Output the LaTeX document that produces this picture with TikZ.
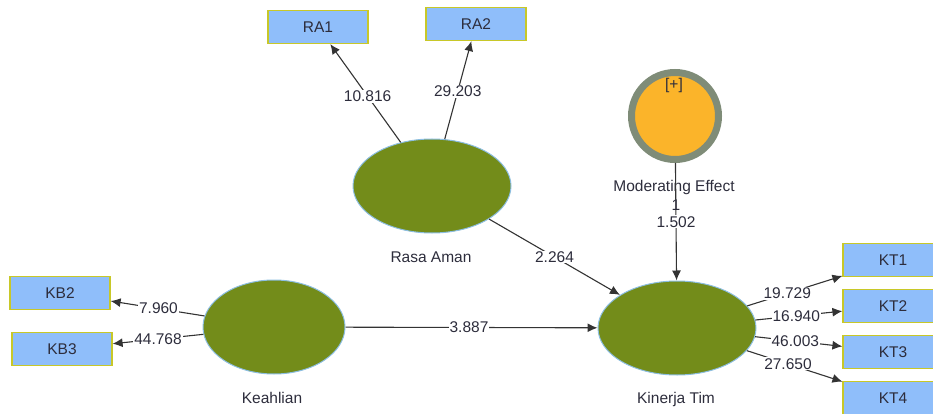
\documentclass[tikz,border=0pt]{standalone}
\usepackage{fontspec}
\setmainfont{Liberation Sans}
\usetikzlibrary{math, shapes.geometric, arrows.meta}
\definecolor{lvgreen}{RGB}{115,140,26}
\definecolor{lvedge}{RGB}{140,190,225}
\definecolor{indfill}{RGB}{143,190,250}
\definecolor{indedge}{RGB}{200,200,40}
\definecolor{modring}{RGB}{127,140,120}
\definecolor{modfill}{RGB}{251,180,42}
\definecolor{txtgray}{RGB}{45,45,60}

\begin{document}
\begin{tikzpicture}[x=1pt, y=-1pt, font=\fontsize{15.5}{18}\selectfont, text=txtgray,
  latent/.style={ellipse, draw=lvedge, line width=1pt, fill=lvgreen, minimum width=158pt, minimum height=94pt, inner sep=0pt},
  indicator/.style={rectangle, draw=indedge, line width=1.2pt, fill=indfill, minimum width=\w pt, minimum height=\h pt, inner sep=0pt},
  link/.style={draw=black!80, line width=1.1pt, -{Latex[length=10pt, width=9pt]}},
  coef/.style={fill=white, inner sep=1pt}]
  \tikzmath{\w = 100; \h = 33;}
  \useasboundingbox (0,0) rectangle (933,414);

  \node[latent] (ra) at (432,186) {};
  \node[latent, minimum width=142pt] (kh) at (274,327) {};
  \node[latent] (kt) at (677,328) {};
  \node[circle, draw=modring, line width=7pt, fill=modfill, minimum size=87pt, inner sep=0pt] (me) at (675,116) {};

  \node (ralbl) at (431,257) {Rasa Aman};
  \node (khlbl) at (272,398) {Keahlian};
  \node (ktlbl) at (676,399) {Kinerja Tim};
  \node (melbl) at (674,187) {Moderating Effect};
  \node (meplus) at (674,85) {[+]};

  \node[indicator] (ra1) at (318,27) {RA1};
  \node[indicator] (ra2) at (476,24) {RA2};
  \node[indicator] (kb2) at (60,293) {KB2};
  \node[indicator] (kb3) at (62,349) {KB3};
  \node[indicator] (kt1) at (893,260) {KT1};
  \node[indicator] (kt2) at (893,306) {KT2};
  \node[indicator] (kt3) at (893,352) {KT3};
  \node[indicator] (kt4) at (893,398) {KT4};

  \draw[link] (ra) -- node[coef, pos=.47] {10.816} (ra1);
  \draw[link] (ra) -- node[coef, pos=.49] {29.203} (ra2);
  \draw[link] (kh) -- node[coef, pos=.49] {7.960} (kb2);
  \draw[link] (kh) -- node[coef, pos=.5] {44.768} (kb3);
  \draw[link] (kt) -- node[coef, pos=.42] {19.729} (kt1);
  \draw[link] (kt) -- node[coef, pos=.47] {16.940} (kt2);
  \draw[link] (kt) -- node[coef, pos=.46] {46.003} (kt3);
  \draw[link] (kt) -- node[coef, pos=.43] {27.650} (kt4);
  \draw[link] (kh) -- node[coef, pos=.49] {3.887} (kt);
  \draw[link] (ra) -- node[coef, pos=.5] {2.264} (kt);
  \draw[link] (me) -- node[pos=.36] {1} node[coef, pos=.5] {1.502} (kt);
\end{tikzpicture}
\end{document}
